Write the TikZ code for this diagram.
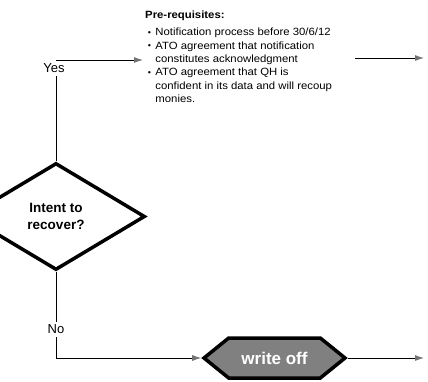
\documentclass[tikz,border=0pt]{standalone}
\usepackage{fontspec}
\setmainfont{Liberation Sans}
\usetikzlibrary{arrows.meta,positioning,calc,shapes.geometric,shapes.symbols}
\newcommand\lnstrut{\rule[-3pt]{0pt}{12.3pt}}
\newcommand\itm{\lnstrut\hspace*{2.5pt}\makebox[7pt][l]{\raisebox{0.5pt}{\scalebox{0.8}{\textbullet}}}}
\newcommand\itmc{\lnstrut\hspace*{9.5pt}}

\begin{document}
\begin{tikzpicture}[x=1pt,y=-1pt,>=Latex,
 flow/.style={line width=0.9pt,-{Latex[length=9pt,width=6pt,color=black!55]}},
 lbl/.style={fill=white,font=\fontsize{13}{15}\selectfont,inner sep=3pt},
 dec/.style={diamond,draw,line width=3.5pt,aspect=1.66,inner sep=0pt,
   minimum width=178pt,minimum height=107pt,align=center,
   font=\fontsize{13.5}{17}\selectfont\bfseries},
 hexa/.style={signal,signal to=east and west,signal pointer angle=78,draw,
   line width=3.5pt,fill=black!50,text=white,minimum width=141pt,
   minimum height=40pt,inner sep=0pt,font=\fontsize{17}{19}\selectfont\bfseries}]
\clip (0,0) rectangle (428,382);
\useasboundingbox (0,0) rectangle (428,382);
\node[dec] (recover) at (56,216.5) {Intent to\\recover?};
\node[anchor=north west,inner sep=2pt,font=\fontsize{10.5}{13.3}\selectfont] (prereq) at (143,6.7)
 {\scalebox{1.08}[1]{\begin{tabular}{@{}p{192.6pt}@{}}
  \textbf{Pre-requisites:}\\[4.4pt]
  \itm Notification process before 30/6/12\\
  \itm ATO agreement that notification\\
  \itmc constitutes acknowledgment\\
  \itm ATO agreement that QH is\\
  \itmc confident in its data and will recoup\\
  \itmc monies.
 \end{tabular}}};
\node[hexa] (wo) at (274.5,358) {write off};
\coordinate (yes) at (56,60);
\coordinate (no) at (56,358);
\coordinate (out1) at (424,58);
\coordinate (out2) at (424,358);
\draw[flow] (recover.north) -- (yes) node[lbl,below,yshift=-0.6pt,xshift=-2pt]{Yes} -- (yes -| prereq.west);
\draw[flow] (prereq.east |- out1) -- (out1);
\draw[flow] (recover.south) -- node[lbl,pos=0.67]{No} (no) -- (wo.west);
\draw[flow] (wo.east) -- (out2);
\end{tikzpicture}
\end{document}
